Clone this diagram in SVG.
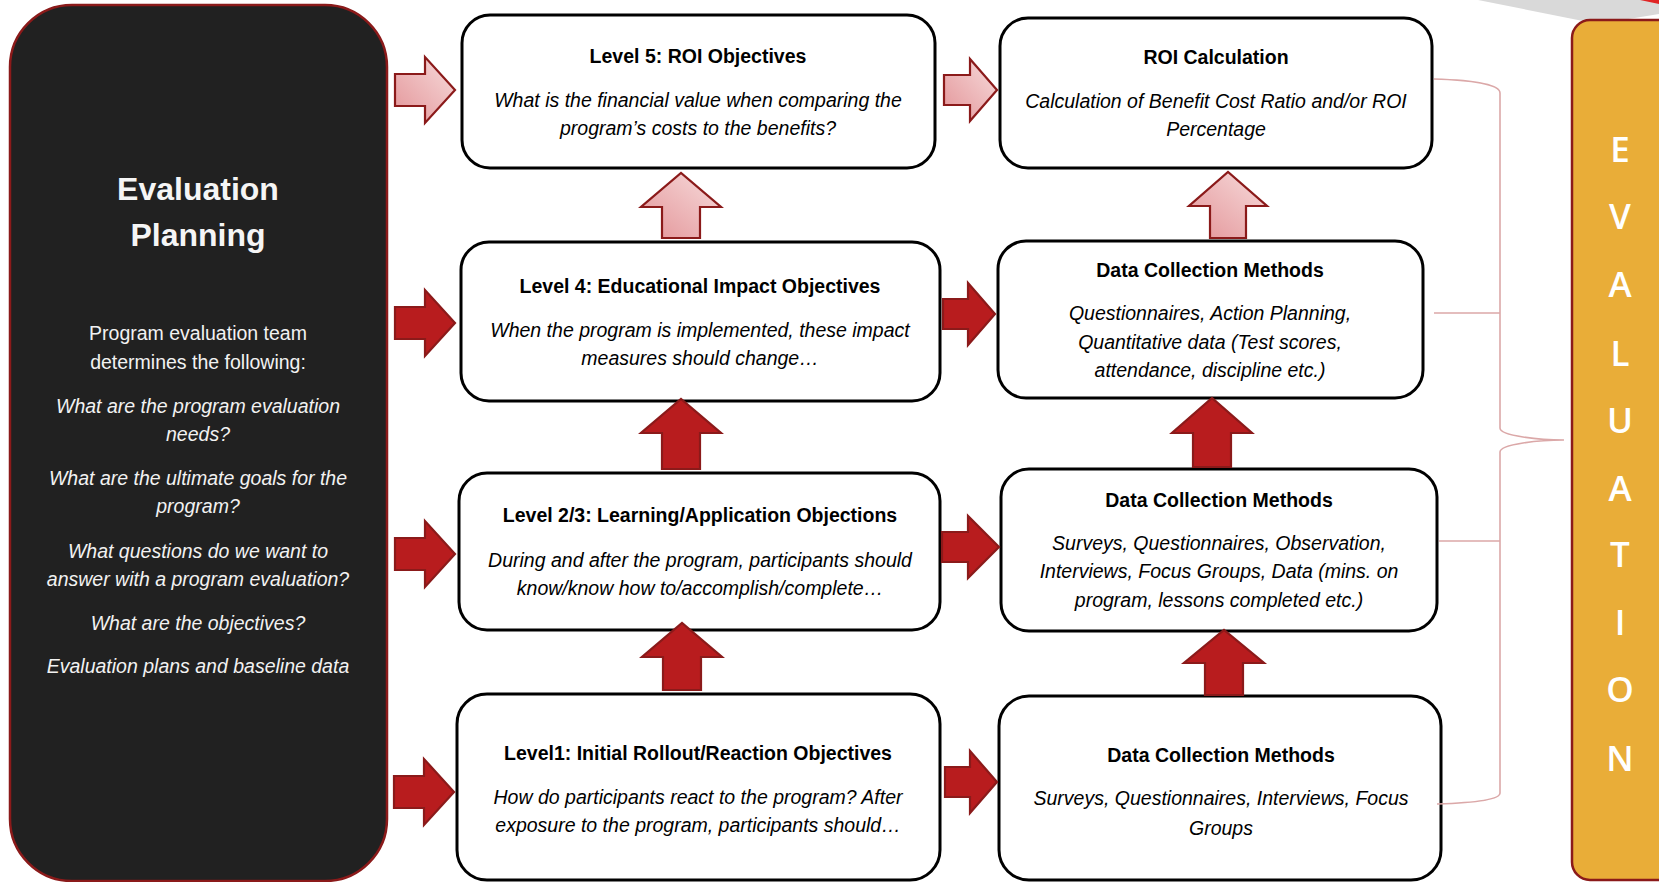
<svg xmlns="http://www.w3.org/2000/svg" width="1659" height="882" viewBox="0 0 1659 882">
<defs>
<linearGradient id="pinkGrad" x1="0" y1="1" x2="1" y2="0">
<stop offset="0" stop-color="#e39498"/>
<stop offset="1" stop-color="#f7dcdc"/>
</linearGradient>
<style>
.box{fill:#fff;stroke:#000;stroke-width:3}
.light{fill:url(#pinkGrad);stroke:#8b1a1a;stroke-width:2.2;stroke-linejoin:miter}
.dark{fill:#b81c1e;stroke:#8b1a1a;stroke-width:2.2;stroke-linejoin:miter}
.title{font-family:"Liberation Sans",Arial,sans-serif;font-weight:bold;font-size:19.5px;fill:#000;text-anchor:middle}
.body{font-family:"Liberation Sans",Arial,sans-serif;font-style:italic;font-size:19.5px;fill:#000;text-anchor:middle}
.wt{font-family:"Liberation Sans",Arial,sans-serif;font-size:19.5px;fill:#f2f2f2;text-anchor:middle}
.wi{font-family:"Liberation Sans",Arial,sans-serif;font-style:italic;font-size:19.5px;fill:#f2f2f2;text-anchor:middle}
.big{font-family:"Liberation Sans",Arial,sans-serif;font-weight:bold;font-size:32px;fill:#f5f5f5;text-anchor:middle}
.letter{font-family:"Open Sans","Liberation Sans",Arial,sans-serif;font-weight:600;font-size:35px;fill:#fff;text-anchor:middle}
.brace{fill:none;stroke:#dba8a8;stroke-width:1.6}
</style>
</defs>
<rect width="1659" height="882" fill="#fff"/>

<!-- background decoration top-right -->
<polygon points="1478,0 1659,0 1659,14 1598,24" fill="#d9d9d9"/>
<polygon points="1640,0 1659,0 1659,4" fill="#e02424"/>

<g id="planning">
<rect x="10" y="5" width="377" height="876" rx="62" fill="#212121" stroke="#8b1a1a" stroke-width="2.5"/>
<text class="big" x="198" y="200">Evaluation</text>
<text class="big" x="198" y="246">Planning</text>
<text class="wt" x="198" y="340">Program evaluation team</text>
<text class="wt" x="198" y="369">determines the following:</text>
<text class="wi" x="198" y="413">What are the program evaluation</text>
<text class="wi" x="198" y="441">needs?</text>
<text class="wi" x="198" y="485">What are the ultimate goals for the</text>
<text class="wi" x="198" y="513">program?</text>
<text class="wi" x="198" y="558">What questions do we want to</text>
<text class="wi" x="198" y="586">answer with a program evaluation?</text>
<text class="wi" x="198" y="630">What are the objectives?</text>
<text class="wi" x="198" y="673">Evaluation plans and baseline data</text>
</g>

<g id="level5">
<rect class="box" x="462" y="15" width="473" height="153" rx="28"/>
<text class="title" x="698" y="63">Level 5: ROI Objectives</text>
<text class="body" x="698" y="107">What is the financial value when comparing the</text>
<text class="body" x="698" y="135">program’s costs to the benefits?</text>
</g>

<g id="roi">
<rect class="box" x="1000" y="18" width="432" height="150" rx="28"/>
<text class="title" x="1216" y="64">ROI Calculation</text>
<text class="body" x="1216" y="108">Calculation of Benefit Cost Ratio and/or ROI</text>
<text class="body" x="1216" y="136">Percentage</text>
</g>

<g id="level4">
<rect class="box" x="461" y="242" width="479" height="159" rx="28"/>
<text class="title" x="700" y="293">Level 4: Educational Impact Objectives</text>
<text class="body" x="700" y="337">When the program is implemented, these impact</text>
<text class="body" x="700" y="365">measures should change…</text>
</g>

<g id="dcm4">
<rect class="box" x="998" y="241" width="425" height="157" rx="28"/>
<text class="title" x="1210" y="277">Data Collection Methods</text>
<text class="body" x="1210" y="320">Questionnaires, Action Planning,</text>
<text class="body" x="1210" y="349">Quantitative data (Test scores,</text>
<text class="body" x="1210" y="377">attendance, discipline etc.)</text>
</g>

<g id="level23">
<rect class="box" x="459" y="473" width="481" height="157" rx="28"/>
<text class="title" x="700" y="522">Level 2/3: Learning/Application Objections</text>
<text class="body" x="700" y="567">During and after the program, participants should</text>
<text class="body" x="700" y="595">know/know how to/accomplish/complete…</text>
</g>

<g id="dcm23">
<rect class="box" x="1001" y="469" width="436" height="162" rx="28"/>
<text class="title" x="1219" y="507">Data Collection Methods</text>
<text class="body" x="1219" y="550">Surveys, Questionnaires, Observation,</text>
<text class="body" x="1219" y="578">Interviews, Focus Groups, Data (mins. on</text>
<text class="body" x="1219" y="607">program, lessons completed etc.)</text>
</g>

<g id="level1">
<rect class="box" x="457" y="694" width="483" height="186" rx="30"/>
<text class="title" x="698" y="760">Level1: Initial Rollout/Reaction Objectives</text>
<text class="body" x="698" y="804">How do participants react to the program? After</text>
<text class="body" x="698" y="832">exposure to the program, participants should…</text>
</g>

<g id="dcm1">
<rect class="box" x="999" y="696" width="442" height="184" rx="30"/>
<text class="title" x="1221" y="762">Data Collection Methods</text>
<text class="body" x="1221" y="805">Surveys, Questionnaires, Interviews, Focus</text>
<text class="body" x="1221" y="835">Groups</text>
</g>

<g id="evaluation">
<rect x="1572" y="20" width="120" height="860" rx="18" fill="#e9ad38" stroke="#8b1a1a" stroke-width="2.5"/>
<text class="letter" x="1620" y="162">E</text>
<text class="letter" x="1620" y="229">V</text>
<text class="letter" x="1620" y="297">A</text>
<text class="letter" x="1620" y="366">L</text>
<text class="letter" x="1620" y="433">U</text>
<text class="letter" x="1620" y="501">A</text>
<text class="letter" x="1620" y="567">T</text>
<text class="letter" x="1620" y="635">I</text>
<text class="letter" x="1620" y="702">O</text>
<text class="letter" x="1620" y="771">N</text>
</g>

<g id="connectors">
<!-- left arrows -->
<polygon class="light" points="395,74 425,74 425,57 455,90 425,123 425,106 395,106"/>
<polygon class="dark" points="395,307 425,307 425,290 455,323 425,356 425,339 395,339"/>
<polygon class="dark" points="395,538 425,538 425,521 455,554 425,587 425,570 395,570"/>
<polygon class="dark" points="394,776 424,776 424,759 454,792 424,825 424,808 394,808"/>
<!-- middle arrows -->
<polygon class="light" points="944,75 970,75 970,59 997,90 970,121 970,105 944,105"/>
<polygon class="dark" points="943,299 968,299 968,283 995,314 968,345 968,329 943,329"/>
<polygon class="dark" points="942,532 968,532 968,516 999,547 968,578 968,562 942,562"/>
<polygon class="dark" points="945,767 970,767 970,751 997,782 970,813 970,797 945,797"/>
<!-- vertical arrows -->
<polygon class="light" points="662,238 662,207 641,207 681,173 721,207 700,207 700,238"/>
<polygon class="dark" points="662,469 662,433 641,433 681,399 721,433 700,433 700,469"/>
<polygon class="dark" points="663,690 663,657 642,657 682,623 722,657 701,657 701,690"/>
<polygon class="light" points="1210,238 1210,206 1189,206 1228,172 1267,206 1246,206 1246,238"/>
<polygon class="dark" points="1193,467 1193,433 1172,433 1212,398 1252,433 1231,433 1231,467"/>
<polygon class="dark" points="1205,695 1205,663 1184,663 1224,630 1264,663 1243,663 1243,695"/>
<!-- brace -->
<path class="brace" d="M1434,79 C1470,80 1500,84 1500,93 L1500,428 C1500,436 1540,440 1564,440 C1540,440 1500,444 1500,452 L1500,793 C1500,800 1470,803 1437,804"/>
<path class="brace" d="M1434,313 H1500 M1439,541 H1500"/>
</g>
</svg>
